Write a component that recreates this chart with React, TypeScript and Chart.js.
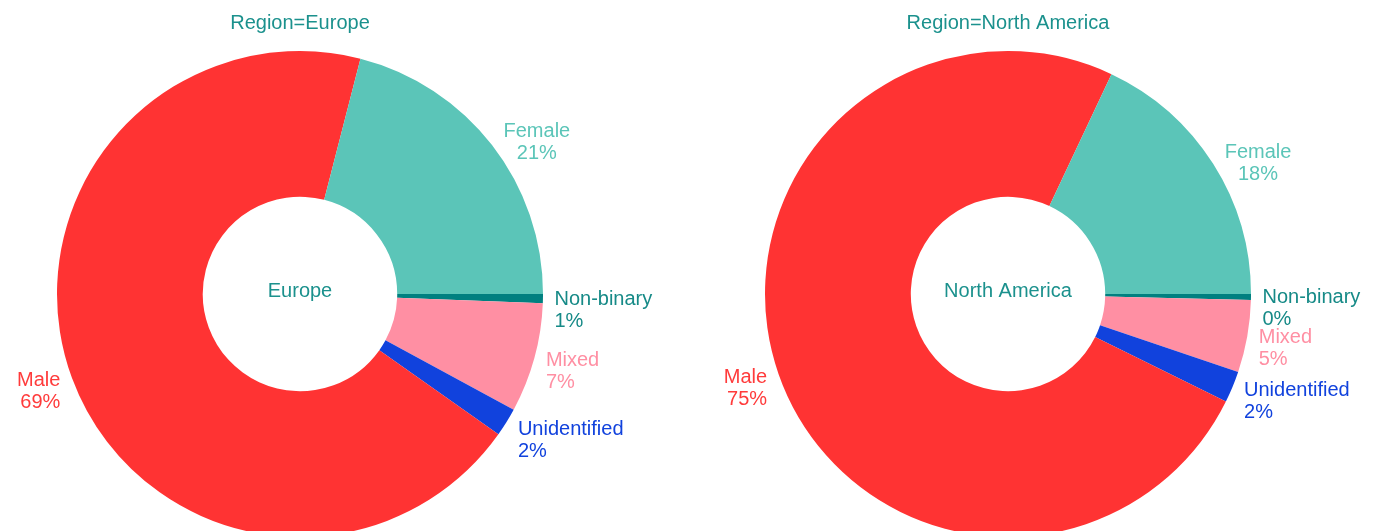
import React, { useEffect, useRef } from "react";
import { Chart, registerables } from "chart.js";

Chart.register(...registerables);

// ---- data ----
const categories = ["Non-binary", "Mixed", "Unidentified", "Male", "Female"];
const europeValues = [0.6, 7.3, 1.9, 69.2, 21.0];
const northAmericaValues = [0.4, 4.8, 2.1, 74.7, 18.0];
const regionNames = ["Europe", "North America"];

// ---- styles ----
const sliceColors = ["#008080", "#FF8FA3", "#1142DD", "#FF3333", "#5BC5B8"];
const textColors = ["#168a87", "#FF8FA3", "#1142DD", "#FF3B3B", "#5BC5B8"];
const titleColor = "#1b918d";
const FONT = '"Liberation Sans", Arial, Helvetica, sans-serif';

const pieLabelsPlugin = {
  id: "pieLabels",
  afterDraw(chart: any) {
    const ctx = chart.ctx;
    const meta = chart.getDatasetMeta(0);
    const data: number[] = chart.data.datasets[0].data;
    const total = data.reduce((a, b) => a + b, 0);
    const region: string = chart.options.plugins.pieLabels.region;
    const lineH = 22;
    ctx.save();
    ctx.font = `20px ${FONT}`;
    let cxc = 0;
    let cyc = 0;
    let rOut = 0;
    meta.data.forEach((arc: any, i: number) => {
      const p = arc.getProps(["x", "y", "startAngle", "endAngle", "outerRadius"], true);
      cxc = p.x;
      cyc = p.y;
      rOut = p.outerRadius;
      const mid = (p.startAngle + p.endAngle) / 2;
      const px = p.outerRadius * Math.cos(mid);
      const py = p.outerRadius * Math.sin(mid);
      const l1 = String(chart.data.labels[i]);
      const l2 = Math.round((data[i] / total) * 100) + "%";
      const w = Math.max(ctx.measureText(l1).width, ctx.measureText(l2).width);
      const h = 46;
      const dx = ((px < 0 ? -1 : 1) * w) / 2;
      const dy = ((py < 0 ? -1 : 1) * h) / 2;
      const xoff = dx + ((dx > 0 ? 1 : -1) * h) / 4;
      const yoff = (dy * py * py) / (px * px + py * py);
      const bx = p.x + px + xoff;
      const by = p.y + py + yoff + (py < 0 ? 5 : 10);
      let tx = bx;
      if (py < 0) {
        ctx.textAlign = "center";
        tx = bx;
      } else if (px >= 0) {
        ctx.textAlign = "left";
        tx = bx - w / 2;
      } else {
        ctx.textAlign = "right";
        tx = bx + w / 2;
      }
      ctx.textBaseline = "alphabetic";
      ctx.fillStyle = textColors[i];
      ctx.fillText(l1, tx, by - lineH / 2 + 7);
      ctx.fillText(l2, tx, by + lineH / 2 + 7);
    });
    // centre text
    ctx.textAlign = "center";
    ctx.textBaseline = "alphabetic";
    ctx.fillStyle = titleColor;
    ctx.fillText(region, cxc, cyc + 3);
    // title
    ctx.fillText(`Region=${region}`, cxc, cyc - rOut - 22);
    ctx.restore();
  },
};

function PiePanel(props: {
  values: number[];
  region: string;
  left: number;
  padding: { left: number; right: number; top: number; bottom: number };
}) {
  const ref = useRef<HTMLCanvasElement | null>(null);
  useEffect(() => {
    if (!ref.current) return;
    const chart = new Chart(ref.current, {
      type: "doughnut",
      data: {
        labels: categories,
        datasets: [
          {
            data: props.values,
            backgroundColor: sliceColors,
            borderWidth: 0,
            hoverOffset: 0,
          },
        ],
      },
      options: {
        responsive: false,
        animation: false,
        devicePixelRatio: 1,
        rotation: 90,
        cutout: "40%",
        layout: { padding: props.padding },
        plugins: {
          legend: { display: false },
          tooltip: { enabled: false },
          pieLabels: { region: props.region },
        } as any,
        events: [],
      },
      plugins: [pieLabelsPlugin],
    });
    return () => chart.destroy();
  }, []);
  return (
    <canvas
      ref={ref}
      width={693}
      height={580}
      style={{ position: "absolute", left: props.left, top: 0, width: 693, height: 580 }}
    />
  );
}

export default function App() {
  return (
    <div
      style={{
        position: "fixed",
        left: 0,
        top: 0,
        width: 1386,
        height: 531,
        overflow: "hidden",
        background: "#ffffff",
      }}
    >
      <PiePanel
        values={europeValues}
        region={regionNames[0]}
        left={0}
        padding={{ left: 57, right: 150, top: 51, bottom: 43 }}
      />
      <PiePanel
        values={northAmericaValues}
        region={regionNames[1]}
        left={693}
        padding={{ left: 72, right: 135, top: 51, bottom: 43 }}
      />
    </div>
  );
}
